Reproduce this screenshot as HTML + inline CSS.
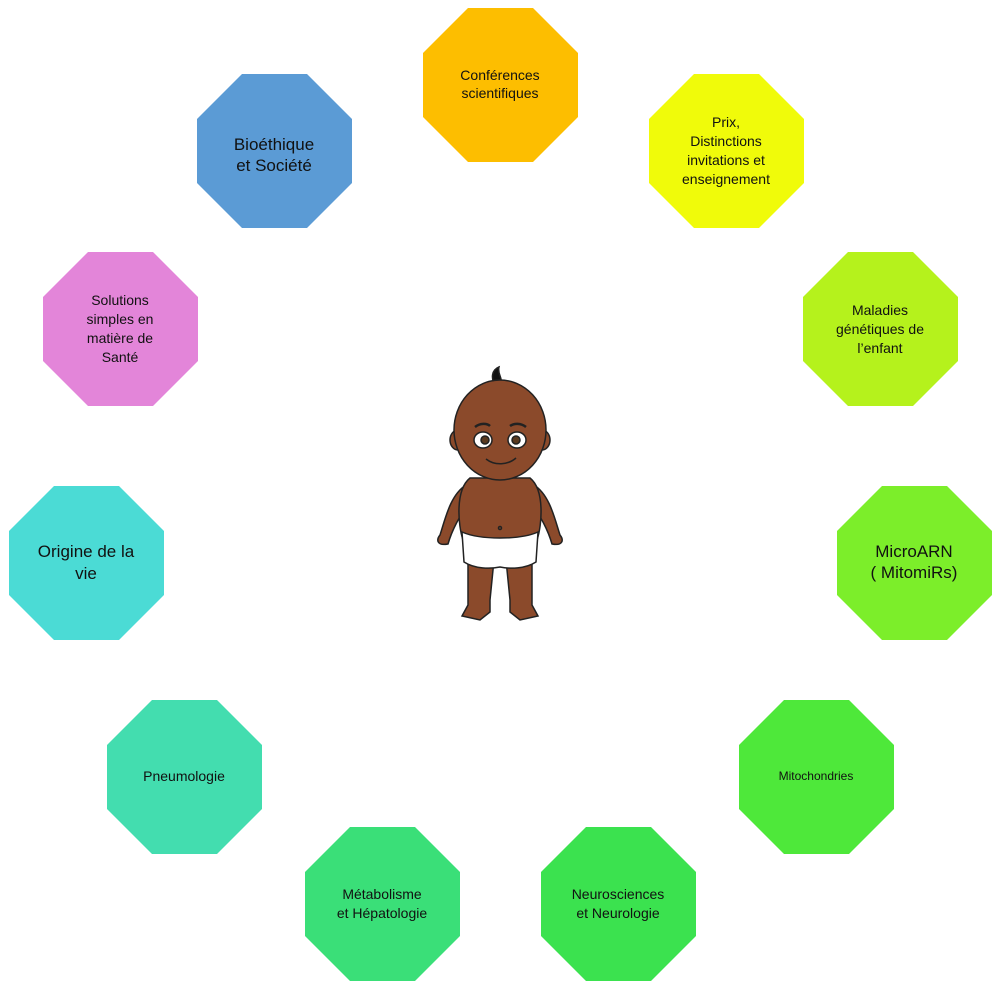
<!DOCTYPE html>
<html><head><meta charset="utf-8"><style>
body{margin:0;background:#fff;}
svg{display:block}
text{font-family:"Liberation Sans",sans-serif;fill:#111;text-anchor:middle}
</style></head><body>
<svg width="1000" height="993" viewBox="0 0 1000 993" xmlns="http://www.w3.org/2000/svg">
<defs><polygon id="oct" points="45,0 110,0 155,45 155,109 110,154 45,154 0,109 0,45"/></defs>
<g>
<use href="#oct" x="423" y="8" fill="#FDBE00"/>
<use href="#oct" x="649" y="74" fill="#F0FB0A"/>
<use href="#oct" x="803" y="252" fill="#B5F21C"/>
<use href="#oct" x="837" y="486" fill="#7CEE2A"/>
<use href="#oct" x="739" y="700" fill="#4EE83A"/>
<use href="#oct" x="541" y="827" fill="#3BE24F"/>
<use href="#oct" x="305" y="827" fill="#3ADF78"/>
<use href="#oct" x="107" y="700" fill="#43DDAF"/>
<use href="#oct" x="9" y="486" fill="#4BDBD5"/>
<use href="#oct" x="43" y="252" fill="#E385D9"/>
<use href="#oct" x="197" y="74" fill="#5B9BD5"/>
</g>
<g font-size="14">
<text x="500" y="80">Conférences</text><text x="500" y="98">scientifiques</text>
<text x="726" y="127">Prix,</text><text x="726" y="146">Distinctions</text><text x="726" y="165">invitations et</text><text x="726" y="184">enseignement</text>
<text x="880" y="315">Maladies</text><text x="880" y="334">génétiques de</text><text x="880" y="353">l’enfant</text>
<text x="914" y="557" font-size="17">MicroARN</text><text x="914" y="578" font-size="17">( MitomiRs)</text>
<text x="816" y="780" font-size="12">Mitochondries</text>
<text x="618" y="899">Neurosciences</text><text x="618" y="918">et Neurologie</text>
<text x="382" y="899">Métabolisme</text><text x="382" y="918">et Hépatologie</text>
<text x="184" y="781">Pneumologie</text>
<text x="86" y="557" font-size="17">Origine de la</text><text x="86" y="579" font-size="17">vie</text>
<text x="120" y="305">Solutions</text><text x="120" y="324">simples en</text><text x="120" y="343">matière de</text><text x="120" y="362">Santé</text>
<text x="274" y="150" font-size="17">Bioéthique</text><text x="274" y="171" font-size="17">et Société</text>
</g>
<g stroke="#222" stroke-width="1.5" fill="#8B4A2B">
<path d="M496 386 C490 378 492 370 499 367 C497 375 504 378 500 386 Z" fill="#111"/>
<path d="M468 555 L468 605 L462 616 L480 620 L490 612 L490 600 L494 560 Z"/>
<path d="M532 555 L532 605 L538 616 L520 620 L510 612 L510 600 L506 560 Z"/>
<path d="M466 485 C450 495 445 520 440 535 C436 540 437 546 448 544 C452 530 460 515 468 505 Z"/>
<path d="M534 485 C550 495 555 520 560 535 C564 540 563 546 552 544 C548 530 540 515 532 505 Z"/>
<path d="M470 478 C455 490 458 525 463 540 L537 540 C542 525 545 490 530 478 Z"/>
<ellipse cx="458" cy="440" rx="8" ry="10"/><ellipse cx="542" cy="440" rx="8" ry="10"/>
<ellipse cx="500" cy="430" rx="46" ry="50"/>
<path d="M462 532 C480 540 520 540 538 532 L536 562 C525 569 510 569 500 567 C490 569 475 569 464 562 Z" fill="#fff"/>
<ellipse cx="483" cy="440" rx="9" ry="8" fill="#fff"/><ellipse cx="517" cy="440" rx="9" ry="8" fill="#fff"/>
<circle cx="485" cy="440" r="4" fill="#5a3a20"/><circle cx="516" cy="440" r="4" fill="#5a3a20"/>
<path d="M486 459 C495 466 508 465 516 458" fill="none"/>
<path d="M475 427 C480 423 487 423 490 426 M510 426 C514 423 521 423 526 427" fill="none" stroke-width="2.5"/>
<circle cx="500" cy="528" r="1.5" fill="none"/>
</g>
</svg>
</body></html>
